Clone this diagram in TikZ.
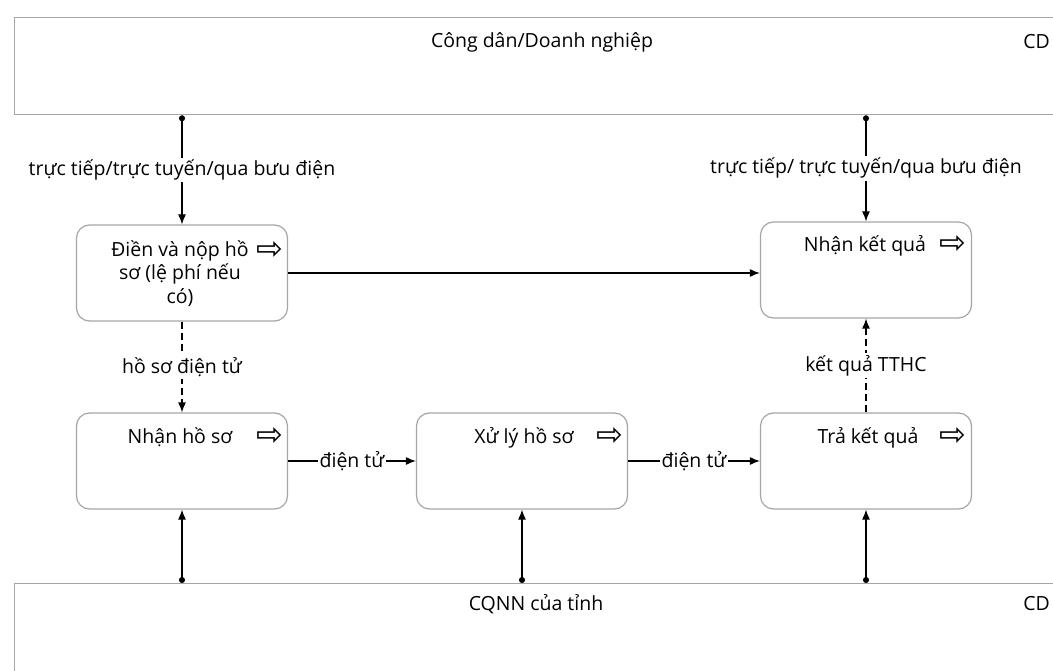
\documentclass[tikz,border=0pt]{standalone}
\usepackage{fontspec}
\setmainfont{Open Sans}
\newfontfamily\symfont{DejaVu Sans}
\usetikzlibrary{arrows.meta,positioning,calc}
\tikzset{
    lane/.style={draw=gray!70, line width=1.3pt, minimum width=1050pt, minimum height=97pt, anchor=north west},
    stepbox/.style={draw=gray!70, line width=1.2pt, rounded corners=13pt, minimum width=211pt, minimum height=96pt},
    title/.style={font=\fontsize{19.5}{23.5}\selectfont, align=center, inner sep=1pt},
    flowarrow/.style={font=\symfont\fontsize{32}{32}\selectfont, inner sep=0pt},
    lbl/.style={font=\fontsize{19.5}{19.5}\selectfont, fill=white, inner sep=2pt},
    flow/.style={line width=1.2pt, -{Latex[length=10pt,width=8pt]}},
    link/.style={line width=1.2pt, {Circle[length=6pt]}-{Latex[length=10pt,width=8pt]}},
    dashflow/.style={flow, dash pattern=on 7pt off 4pt},
}
\begin{document}
\begin{tikzpicture}[x=1pt,y=-1pt]
    \useasboundingbox (0,0) rectangle (1053,671);
    \fill[white] (0,0) rectangle (1053,671);
    % swimlanes
    \node[lane] (cd) at (14,17) {};
    \node[title] at (542,42) {Công dân/Doanh nghiệp};
    \node[title, anchor=east] at (1051,42) {CD};
    \node[lane] (cqnn) at (14,583) {};
    \node[title] at (536,604) {CQNN của tỉnh};
    \node[title, anchor=east] at (1051,604) {CD};
    % steps
    \node[stepbox] (dien) at (182,273) {};
    \node[stepbox] (nhankq) at (866,270) {};
    \node[stepbox] (nhanhs) at (182,461) {};
    \node[stepbox] (xuly) at (522,461) {};
    \node[stepbox] (tra) at (866,461) {};
    % step titles
    \node[title, anchor=north] (tdien) at ($(dien.north)+(-2,15)$)
        {Điền và nộp hồ\\sơ (lệ phí nếu\\có)};
    \node[flowarrow] at ($(dien.north east)+(-18,26)$) {⇨};
    \node[title] (tnhankq) at ($(nhankq.north)+(-1,24)$) {Nhận kết quả};
    \node[flowarrow] at ($(nhankq.north east)+(-19,23)$) {⇨};
    \node[title] (tnhanhs) at ($(nhanhs.north)+(-2,25)$) {Nhận hồ sơ};
    \node[flowarrow] at ($(nhanhs.north east)+(-18,24)$) {⇨};
    \node[title] (txuly) at ($(xuly.north)+(2,25)$) {Xử lý hồ sơ};
    \node[flowarrow] at ($(xuly.north east)+(-18,24)$) {⇨};
    \node[title] (ttra) at ($(tra.north)+(2,25)$) {Trả kết quả};
    \node[flowarrow] at ($(tra.north east)+(-19,24)$) {⇨};
    % connectors
    \draw[link] (cd.south -| dien) -- node[lbl] {trực tiếp/trực tuyến/qua bưu điện} (dien.north);
    \draw[link] (cd.south -| nhankq) -- node[lbl] {trực tiếp/ trực tuyến/qua bưu điện} (nhankq.north);
    \draw[flow] (dien.east) -- (dien.east -| nhankq.west);
    \draw[dashflow] (dien.south) -- node[lbl] {hồ sơ điện tử} (nhanhs.north);
    \draw[flow] (nhanhs.east) -- node[lbl] {điện tử} (xuly.west);
    \draw[flow] (xuly.east) -- node[lbl] {điện tử} (tra.west);
    \draw[dashflow] (tra.north) -- node[lbl] {kết quả TTHC} (nhankq.south);
    \draw[link] (cqnn.north -| nhanhs) -- (nhanhs.south);
    \draw[link] (cqnn.north -| xuly) -- (xuly.south);
    \draw[link] (cqnn.north -| tra) -- (tra.south);
\end{tikzpicture}
\end{document}
